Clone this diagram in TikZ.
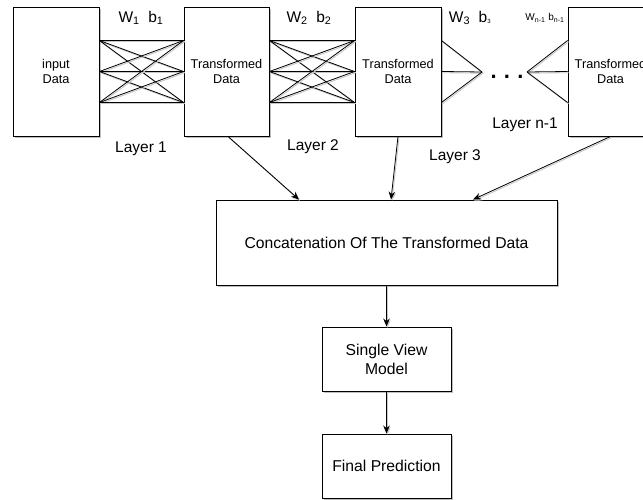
\documentclass[tikz,border=0pt]{standalone}
\usepackage{fontspec}
\setmainfont{Liberation Sans}
\usetikzlibrary{arrows.meta,shadows}

\begin{document}
\begin{tikzpicture}[x=1pt,y=-1pt,
  box/.style={draw=black, line width=0.9pt, fill=white, align=center, inner sep=0pt,
    font=\fontsize{12.7}{15}\selectfont,
    drop shadow={shadow xshift=1.6pt, shadow yshift=-1.6pt, fill=black, opacity=0.25}},
  bigbox/.style={box, font=\fontsize{15.7}{19}\selectfont},
  wire/.style={line width=0.8pt,
    preaction={draw=black!22, line width=0.9pt, transform canvas={xshift=1pt, yshift=-1.2pt}}},
  arrow/.style={wire, -{Stealth[length=8pt, width=6.5pt]}},
  lbl/.style={font=\fontsize{15.5}{18}\selectfont, inner sep=0pt},
  smalllbl/.style={font=\fontsize{10}{12}\selectfont, inner sep=0pt},
]
\useasboundingbox (0,0) rectangle (643,500);
\clip (0,0) rectangle (643,500);

% layer boxes
\node[box, minimum width=86pt, minimum height=129pt] (in) at (56,71.5) {input\\Data};
\node[box, minimum width=85pt, minimum height=129pt] (t1) at (226.5,71.5) {Transformed\\Data};
\node[box, minimum width=86pt, minimum height=129pt] (t2) at (398,71.5) {Transformed\\Data};
\node[box, minimum width=85pt, minimum height=129pt] (tn) at (610.5,71.5) {Transformed\\Data};

% lower chain
\node[bigbox, minimum width=341pt, minimum height=85pt] (concat) at (386.5,242.5)
  {Concatenation Of The Transformed Data};
\node[bigbox, minimum width=129pt, minimum height=64pt] (single) at (386.5,359)
  {Single View\\Model};
\node[bigbox, minimum width=129pt, minimum height=64pt] (final) at (386.5,466)
  {Final Prediction};

% connection ports on the layer boxes
\foreach \b in {in,t1,t2,tn}{
  \coordinate (\b-e1) at ([yshift=31pt]\b.east);
  \coordinate (\b-e2) at (\b.east);
  \coordinate (\b-e3) at ([yshift=-31pt]\b.east);
  \coordinate (\b-w1) at ([yshift=31pt]\b.west);
  \coordinate (\b-w2) at (\b.west);
  \coordinate (\b-w3) at ([yshift=-31pt]\b.west);
}

% fully connected layers
\foreach \i in {1,2,3}{
  \foreach \j in {1,2,3}{
    \draw[wire] (in-e\i) -- (t1-w\j);
    \draw[wire] (t1-e\i) -- (t2-w\j);
  }
}

% fan-in / fan-out around the ellipsis
\coordinate (fanin) at (482,72);
\coordinate (fanout) at (527,72);
\foreach \i in {1,2,3}{
  \draw[wire] (t2-e\i) -- (fanin);
  \draw[wire] (fanout) -- (tn-w\i);
}
\node[font=\fontsize{22}{24}\selectfont\bfseries, inner sep=0pt] (dots) at (507,77) {.\,\,.\,\,.};

% weight labels
\node[lbl] (wb1) at (141,18) {W\textsubscript{1}\ \ b\textsubscript{1}};
\node[lbl] (wb2) at (309,18) {W\textsubscript{2}\ \ b\textsubscript{2}};
\node[lbl] (wb3) at (470,18) {W\textsubscript{3}\ \ b{\fontsize{8}{9}\selectfont\textsubscript{3}}};
\node[smalllbl] (wbn) at (545,18) {W\textsubscript{n-1}\ b\textsubscript{n-1}};

% layer labels
\node[lbl] (l1) at (141,149) {Layer 1};
\node[lbl] (l2) at (313,147) {Layer 2};
\node[lbl] (l3) at (455,157) {Layer 3};
\node[lbl] (ln) at (525,125) {Layer n-1};

% arrows into the concatenation and down the chain
\draw[arrow] ([xshift=1.5pt]t1.south) -- ([xshift=-87.5pt]concat.north);
\draw[arrow] (t2.south) -- ([xshift=4.5pt]concat.north);
\draw[arrow] (tn.south) -- ([xshift=86.5pt]concat.north);
\draw[arrow] (concat.south) -- (single.north);
\draw[arrow] (single.south) -- (final.north);
\end{tikzpicture}
\end{document}
